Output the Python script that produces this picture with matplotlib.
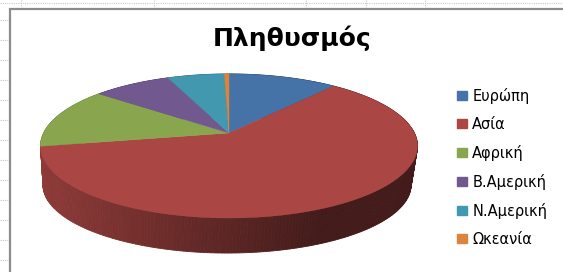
import numpy as np
import matplotlib
matplotlib.use("Agg")
import matplotlib.pyplot as plt
from matplotlib.patches import Polygon, Patch
from matplotlib.colors import to_rgb

# population (millions)
regions = ["Ευρώπη", "Ασία", "Αφρική", "Β.Αμερική", "Ν.Αμερική", "Ωκεανία"]
population = [731, 4010, 900, 525, 382, 31]
colors = ["#4572A7", "#AA4643", "#89A54E", "#71588F", "#4198AF", "#DB843D"]
title = "Πληθυσμός"

W, H = 563, 272

# pie geometry in pixels (perspective ellipse for top and bottom face)
TOP = dict(cx=229, cy=133, R=185.4, A=69.7, k=0.18)
BOT = dict(cx=227, cy=172.8, R=181.0, A=65.8, k=0.18)


def project(theta, g):
    v = np.cos(theta)
    s = 1.0 / (1.0 + g["k"] * v)
    return g["cx"] + g["R"] * np.sin(theta) * s, g["cy"] - g["A"] * v * s


def side_color(c, x):
    t = (x - 41) / 376.0
    f = 0.835 - 0.445 * min(1.0, max(0.0, t / 0.75))
    r, g, b = to_rgb(c)
    return (r * f, g * f, b * f)


fig = plt.figure(figsize=(W / 100, H / 100), dpi=100)
ax = fig.add_axes([0, 0, 1, 1])
ax.set_xlim(0, W)
ax.set_ylim(H, 0)
ax.axis("off")

# spreadsheet background: dotted cell lines outside the chart frame
ax.plot([0, W], [2.5, 2.5], color="#c8c8c8", lw=0.8, ls=(0, (1, 1)))
for xt in [21, 154, 306, 366, 425]:
    ax.plot([xt, xt], [0, 7], color="#c8c8c8", lw=0.8, ls=(0, (1, 1)))
for yt in np.arange(20, H, 20):
    ax.plot([0, 8], [yt, yt], color="#c8c8c8", lw=0.8, ls=(0, (1, 1)))

# chart frame
ax.plot([9.5, 9.5, W + 5], [H + 5, 8.5, 8.5], color="#8c8c8c", lw=1.6,
        solid_joinstyle="miter")

fracs = np.array(population, dtype=float) / sum(population)
bounds = np.concatenate([[0], np.cumsum(fracs)]) * 2 * np.pi

# side wall, drawn far to near
quads = []
for i in range(len(regions)):
    th = np.linspace(bounds[i], bounds[i + 1], max(3, int(fracs[i] * 400)))
    for a, b in zip(th[:-1], th[1:]):
        xa, ya = project(a, TOP)
        xb, yb = project(b, TOP)
        xc, yc = project(b, BOT)
        xd, yd = project(a, BOT)
        depth = np.cos((a + b) / 2)
        col = side_color(colors[i], (xa + xb) / 2)
        quads.append((depth, [(xa, ya), (xb, yb), (xc, yc), (xd, yd)], col))

quads.sort(key=lambda q: -q[0])
for _, pts, col in quads:
    ax.add_patch(Polygon(pts, closed=True, facecolor=col, edgecolor=col, lw=0.6))

# top face
apex = (TOP["cx"], TOP["cy"])
for i in range(len(regions)):
    th = np.linspace(bounds[i], bounds[i + 1], max(3, int(fracs[i] * 400)))
    xs, ys = project(th, TOP)
    pts = [apex] + list(zip(xs, ys))
    ax.add_patch(Polygon(pts, closed=True, facecolor=colors[i],
                         edgecolor=colors[i], lw=0.3))

ax.text(292, 38, title, ha="center", va="center", fontsize=18,
        fontweight="bold", family="DejaVu Sans")

handles = [Patch(facecolor=c, edgecolor=c) for c in colors]
ax.legend(handles, regions, loc="upper left", bbox_to_anchor=(457, 88),
          bbox_transform=ax.transData, frameon=False, fontsize=10.5,
          handlelength=0.7, handleheight=0.6, handletextpad=0.35,
          labelspacing=0.89, borderpad=0, borderaxespad=0)

fig.savefig("out.png", dpi=100)
